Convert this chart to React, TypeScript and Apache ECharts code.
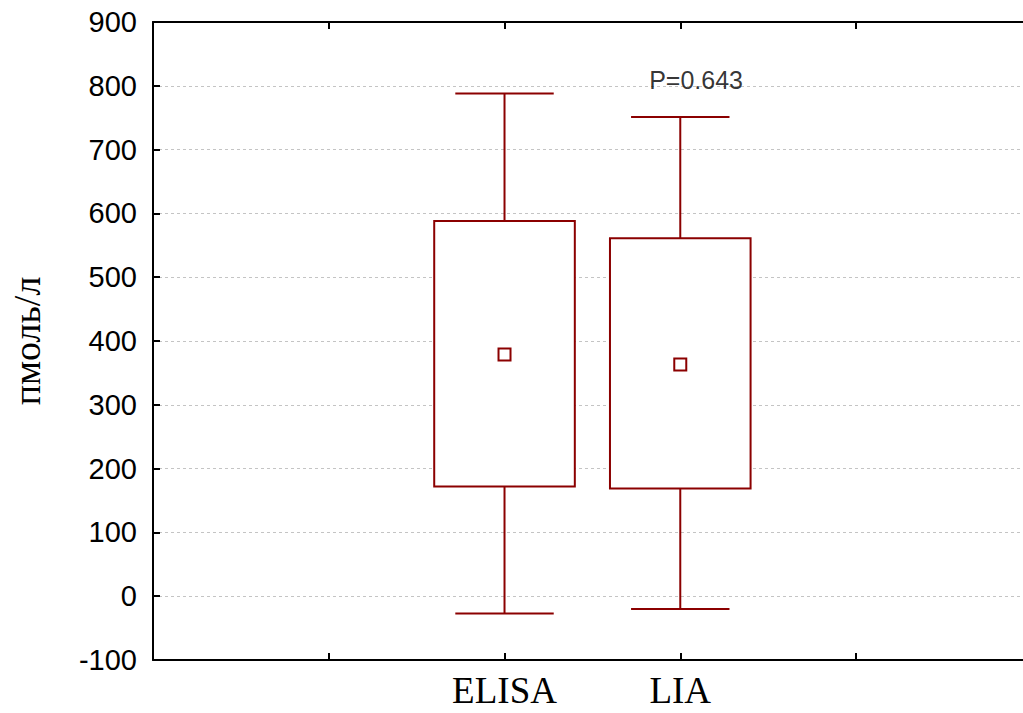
import React, { useEffect, useRef } from "react";
import * as echarts from "echarts";

// ---- data ----
const categories = ["ELISA", "LIA"];
const categoryPositions = [2, 3];
const tickPositions = [1, 2, 3, 4];
const whiskerLow = [-27, -20];
const boxLow = [172, 169];
const means = [379, 363];
const boxHigh = [588, 561];
const whiskerHigh = [788, 751];
const annotationText = "P=0.643";
const annotationX = 3.09;
const annotationY = 809;
const yMin = -100;
const yMax = 900;
const yStep = 100;
const yAxisName = "пмоль/л";

const BOX_COLOR = "#8b0000";

export default function App() {
  const ref = useRef<HTMLDivElement>(null);

  useEffect(() => {
    if (!ref.current) return;
    const chart = echarts.init(ref.current, null, { renderer: "svg" });

    const boxData = categories.map((_, i) => [
      categoryPositions[i],
      whiskerLow[i],
      boxLow[i],
      means[i],
      boxHigh[i],
      whiskerHigh[i],
    ]);

    const labelFor = (v: number) => {
      const idx = categoryPositions.indexOf(Math.round(v * 1000) / 1000);
      return idx >= 0 ? categories[idx] : "";
    };

    const xCommon = {
      type: "value" as const,
      min: 0,
      max: 4.95,
      interval: 1,
      splitLine: { show: false },
      axisLine: { show: true, onZero: false, lineStyle: { color: "#000", width: 2 } },
      axisTick: {
        show: true,
        inside: true,
        length: 7,
        customValues: tickPositions,
        lineStyle: { color: "#000", width: 2 },
      },
    };

    chart.setOption({
      animation: false,
      grid: { left: 153, right: 0, top: 22, bottom: 53, containLabel: false },
      xAxis: [
        {
          ...xCommon,
          position: "bottom",
          axisLabel: {
            show: true,
            margin: 12,
            color: "#000",
            fontFamily: "'Liberation Serif', 'Times New Roman', serif",
            fontSize: 37,
            customValues: categoryPositions,
            formatter: (v: number) => labelFor(v),
          },
        },
        {
          ...xCommon,
          position: "top",
          axisLabel: { show: false },
        },
      ],
      yAxis: {
        type: "value",
        min: yMin,
        max: yMax,
        interval: yStep,
        axisLine: { show: true, onZero: false, lineStyle: { color: "#000", width: 2 } },
        axisTick: { show: true, inside: true, length: 7, lineStyle: { color: "#000", width: 2 } },
        axisLabel: {
          color: "#000",
          margin: 16,
          fontFamily: "'Liberation Sans', Arial, sans-serif",
          fontSize: 29,
        },
        splitLine: {
          show: true,
          lineStyle: { color: "#c4c4c4", type: [3, 3], width: 1 },
        },
      },
      graphic: [
        {
          type: "text",
          x: 27,
          y: 341,
          rotation: Math.PI / 2,
          style: {
            text: yAxisName,
            fill: "#000",
            font: "38px 'Liberation Serif', 'Times New Roman', serif",
            textAlign: "center",
            textVerticalAlign: "middle",
          },
        },
      ],
      series: [
        {
          type: "custom",
          xAxisIndex: 0,
          yAxisIndex: 0,
          data: boxData,
          encode: { x: 0, y: [1, 2, 3, 4, 5] },
          clip: false,
          renderItem: (params: any, api: any) => {
            const x = api.value(0);
            const pLow = api.coord([x, api.value(1)]);
            const pQ1 = api.coord([x, api.value(2)]);
            const pMean = api.coord([x, api.value(3)]);
            const pQ3 = api.coord([x, api.value(4)]);
            const pHigh = api.coord([x, api.value(5)]);
            const half = api.size([0.4, 0])[0];
            const capHalf = api.size([0.28, 0])[0];
            const cx = pLow[0];
            const st = { stroke: BOX_COLOR, lineWidth: 2, fill: null };
            const sq = 6;
            return {
              type: "group",
              children: [
                { type: "line", shape: { x1: cx, y1: pHigh[1], x2: cx, y2: pQ3[1] }, style: st },
                { type: "line", shape: { x1: cx - capHalf, y1: pHigh[1], x2: cx + capHalf, y2: pHigh[1] }, style: st },
                { type: "line", shape: { x1: cx, y1: pQ1[1], x2: cx, y2: pLow[1] }, style: st },
                { type: "line", shape: { x1: cx - capHalf, y1: pLow[1], x2: cx + capHalf, y2: pLow[1] }, style: st },
                {
                  type: "rect",
                  shape: { x: cx - half, y: pQ3[1], width: half * 2, height: pQ1[1] - pQ3[1] },
                  style: { stroke: BOX_COLOR, lineWidth: 2, fill: "#fff" },
                },
                {
                  type: "rect",
                  shape: { x: cx - sq, y: pMean[1] - sq, width: sq * 2, height: sq * 2 },
                  style: { stroke: BOX_COLOR, lineWidth: 2, fill: "#fff" },
                },
              ],
            };
          },
          z: 5,
        },
        {
          type: "scatter",
          xAxisIndex: 0,
          yAxisIndex: 0,
          symbolSize: 0,
          data: [[annotationX, annotationY]],
          label: {
            show: true,
            position: "inside",
            formatter: annotationText,
            color: "#000",
            fontFamily: "'Liberation Sans', Arial, sans-serif",
            fontSize: 25,
          },
          z: 6,
        },
      ],
    });

    return () => chart.dispose();
  }, []);

  return (
    <div
      ref={ref}
      style={{ position: "fixed", left: 0, top: 0, width: 1023, height: 713, background: "#fff" }}
    />
  );
}
